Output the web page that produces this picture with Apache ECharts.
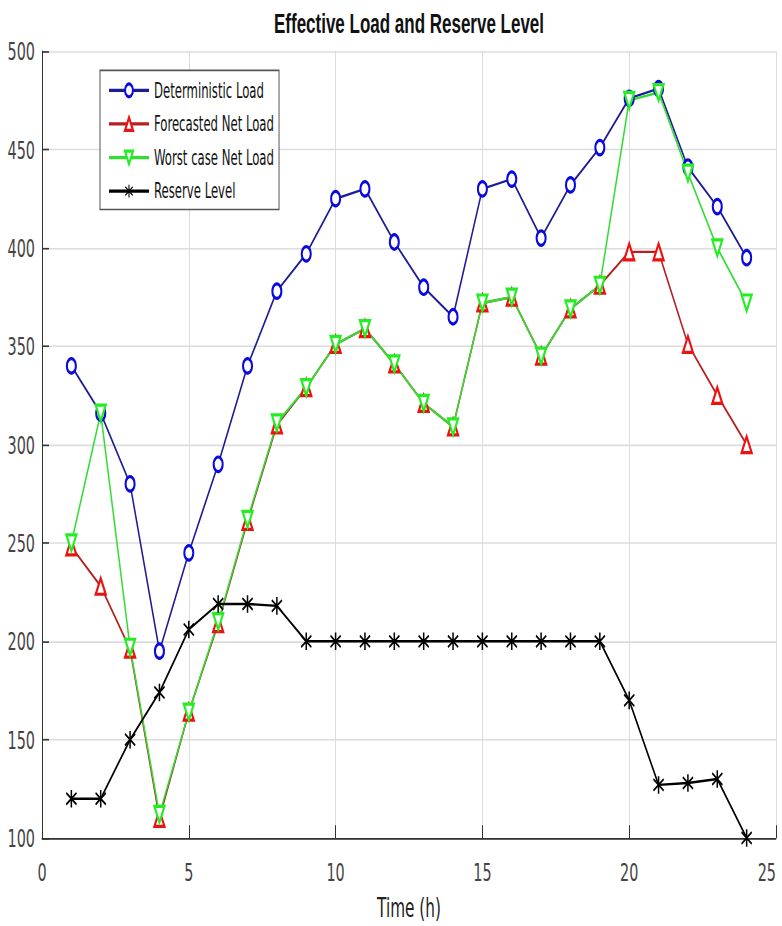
<!DOCTYPE html>
<html>
<head>
<meta charset="utf-8">
<script src="https://cdn.jsdelivr.net/npm/echarts@6/dist/echarts.min.js"></script>
<style>
  html, body { margin: 0; padding: 0; background: #fff; width: 782px; height: 926px; overflow: hidden; }
  #wrap { position: absolute; left: 0; top: 0; width: 782px; height: 926px; overflow: hidden; }
  #chart { width: 782px; height: 579px; transform: scaleY(1.59931); transform-origin: 0 0; }
</style>
</head>
<body>
<div id="wrap"><div id="chart"></div></div>
<script>
// ---- data ----
const hours = [1,2,3,4,5,6,7,8,9,10,11,12,13,14,15,16,17,18,19,20,21,22,23,24];
const deterministicLoad = [340,316,280,195,245,290,340,378,397,425,430,403,380,365,430,435,405,432,451,476,481,441,421,395];
const forecastedNetLoad = [248,228,196,110,164,209,261,310,329,351,359,341,321,309,372,375,345,369,381,398,398,351,325,300];
const worstCaseNetLoad  = [250,316,197,112,164,210,262,311,329,351,359,341,321,309,372,375,345,369,381,475,479,438,400,372];
const reserveLevel      = [120,120,150,174,206,219,219,218,200,200,200,200,200,200,200,200,200,200,200,170,127,128,130,100];
const seriesNames = ['Deterministic Load','Forecasted Net Load','Worst case Net Load','Reserve Level'];
const xTicks = { min: 0, max: 25, step: 5 };
const yTicks = { min: 100, max: 500, step: 50 };
const titleText = 'Effective Load and Reserve Level';
const xAxisName = 'Time (h)';

const pairs = (vals) => hours.map((h, i) => [h, vals[i]]);

const NARROW = "'Liberation Sans Narrow','Arial Narrow','DejaVu Sans Condensed',sans-serif";
const REG = "'Liberation Sans',Arial,sans-serif";
const asterisk = 'path://M4.4 0L5.6 0L5.6 10L4.4 10Z M0.6 2.2L1.2 1.2L9.4 7.8L8.8 8.8Z M9.4 2.2L1.2 8.8L0.6 7.8L8.8 1.2Z';

const chart = echarts.init(document.getElementById('chart'), null, { renderer: 'svg' });
chart.setOption({
  animation: false,
  backgroundColor: '#fff',
  title: {
    text: titleText,
    left: 409,
    textAlign: 'center',
    top: 6,
    padding: 0,
    textStyle: { fontFamily: REG, fontWeight: 'bold', fontSize: 17, color: '#111' }
  },
  legend: {
    orient: 'vertical',
    left: 100,
    top: 44,
    padding: [5, 5, 4, 8],
    itemGap: 6,
    itemWidth: 40,
    itemHeight: 10,
    backgroundColor: '#fff',
    borderColor: '#555',
    borderWidth: 1,
    borderRadius: 0,
    data: seriesNames,
    textStyle: { fontFamily: NARROW, fontSize: 13, lineHeight: 15, color: '#111' },
    lineStyle: { width: 2 }
  },
  grid: { left: 42, right: 6, top: 32, bottom: 55, containLabel: false, outerBoundsMode: 'none' },
  xAxis: {
    type: 'value',
    min: xTicks.min, max: xTicks.max, interval: xTicks.step,
    name: xAxisName,
    nameLocation: 'middle',
    nameGap: 35,
    nameTextStyle: { fontFamily: NARROW, fontSize: 17, color: '#222' },
    axisLine: { show: true, onZero: false, lineStyle: { color: '#333', width: 1 } },
    axisTick: { show: true, inside: true, length: 8, lineStyle: { color: '#333' } },
    axisLabel: { fontFamily: NARROW, fontSize: 16, color: '#444', margin: 13, alignMaxLabel: 'right' },
    splitLine: { show: true, lineStyle: { color: '#dcdcdc', width: 1 } }
  },
  yAxis: {
    type: 'value',
    min: yTicks.min, max: yTicks.max, interval: yTicks.step,
    axisLine: { show: true, onZero: false, lineStyle: { color: '#333', width: 1 } },
    axisTick: { show: true, inside: true, length: 7, lineStyle: { color: '#333' } },
    axisLabel: { fontFamily: NARROW, fontSize: 16, color: '#444', margin: 7 },
    splitLine: { show: true, lineStyle: { color: '#dcdcdc', width: 1 } }
  },
  series: [
    {
      name: seriesNames[0], type: 'line', data: pairs(deterministicLoad),
      symbol: 'emptyCircle', symbolSize: 9,
      lineStyle: { color: '#1c1c96', width: 1.5 },
      itemStyle: { color: '#0a0ae0', borderWidth: 1.5 }
    },
    {
      name: seriesNames[1], type: 'line', data: pairs(forecastedNetLoad),
      symbol: 'emptyTriangle', symbolSize: 10,
      lineStyle: { color: '#b52020', width: 1.5 },
      itemStyle: { color: '#ee1111', borderWidth: 1.5 }
    },
    {
      name: seriesNames[2], type: 'line', data: pairs(worstCaseNetLoad),
      symbol: 'emptyTriangle', symbolSize: 10, symbolRotate: 180,
      lineStyle: { color: '#33dd33', width: 1.5 },
      itemStyle: { color: '#22ee22', borderWidth: 1.5 }
    },
    {
      name: seriesNames[3], type: 'line', data: pairs(reserveLevel),
      symbol: asterisk, symbolSize: 11,
      lineStyle: { color: '#000', width: 1.5 },
      itemStyle: { color: '#000' }
    }
  ]
});
</script>
</body>
</html>
